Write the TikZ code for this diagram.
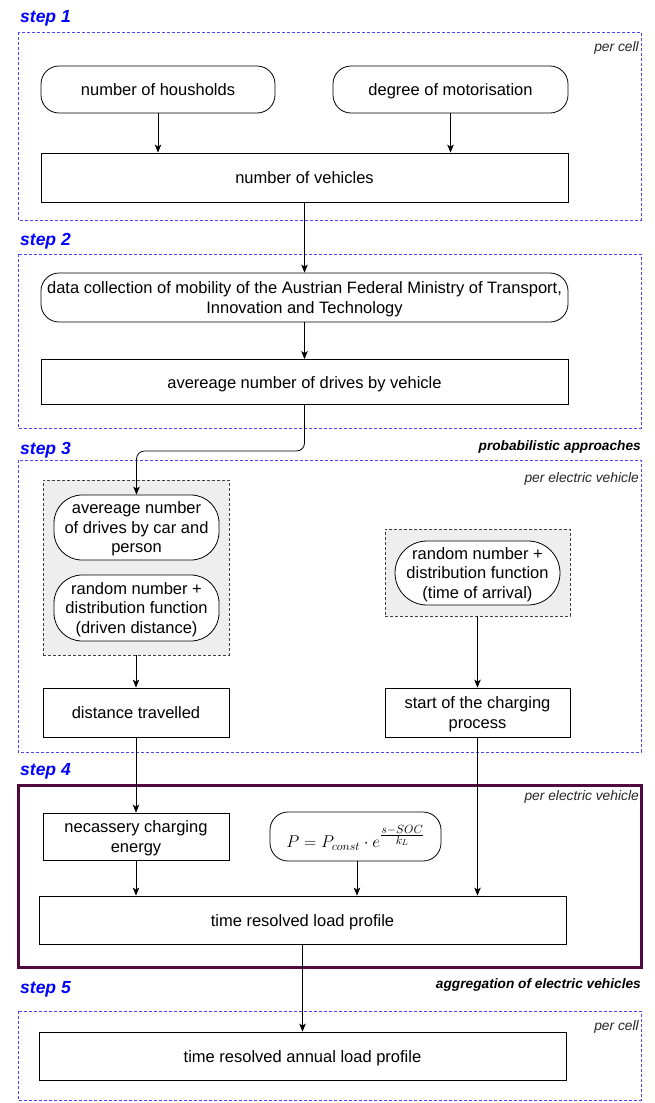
\RequirePackage{fix-cm}
\documentclass[tikz,border=0pt]{standalone}
\usepackage{fontspec}
\setmainfont{Liberation Sans}
\usetikzlibrary{arrows.meta,calc}
\definecolor{stepblue}{RGB}{0,0,255}
\definecolor{dashblue}{RGB}{70,70,245}
\definecolor{framepurple}{RGB}{80,10,64}
\definecolor{grayfill}{RGB}{238,238,238}
\begin{document}
\begin{tikzpicture}[x=1pt,y=-1pt,
  every node/.style={font=\fontsize{16.5}{19.5}\selectfont},
  box/.style={draw=black, line width=0.8pt, fill=white, align=center, inner sep=0pt, text depth=0pt},
  sl/.style={text height=12pt},
  rbox/.style={box, rounded corners=18pt},
  pill/.style={box, rounded corners=28pt},
  stepframe/.style={draw=dashblue, line width=0.8pt, dash pattern=on 3pt off 2pt},
  grp/.style={draw=black!75, fill=grayfill, line width=0.7pt, dash pattern=on 3pt off 2pt, inner sep=0pt},
  arr/.style={draw, line width=0.8pt, -{Stealth[length=8pt,width=6.5pt,inset=2pt]}},
  steplbl/.style={anchor=west, text=stepblue, font=\fontsize{17.5}{20}\selectfont\bfseries\itshape, inner sep=0pt},
  note/.style={anchor=east, font=\fontsize{13.8}{16}\selectfont\itshape, text=black!85, inner sep=0pt},
  bnote/.style={anchor=east, font=\fontsize{13.7}{16}\selectfont\bfseries\itshape, inner sep=0pt},
]
\fill[white] (0,0) rectangle (654,1103);
\useasboundingbox (0,0) rectangle (654,1103);

% step frames
\draw[stepframe] (18,32) rectangle (641,220);
\draw[stepframe] (18,254) rectangle (641,428);
\draw[stepframe] (18,460) rectangle (641,752);
\draw[draw=framepurple, line width=3pt] (18,785) rectangle (641,967);
\draw[stepframe] (18,1011) rectangle (641,1100);

% labels
\node[steplbl] (s1) at (20,18) {step 1};
\node[steplbl] (s2) at (20,241) {step 2};
\node[steplbl] (s3) at (20,450) {step 3};
\node[steplbl] (s4) at (20,771) {step 4};
\node[steplbl] (s5) at (20,989) {step 5};
\node[note] (n1) at (639,48) {per cell};
\node[note] (n3) at (639,479) {per electric vehicle};
\node[note] (n4) at (639,797) {per electric vehicle};
\node[note] (n5) at (639,1027) {per cell};
\node[bnote] (b3) at (641,447) {probabilistic approaches};
\node[bnote] (b5) at (641,985) {aggregation of electric vehicles};

% step 1
\node[rbox, sl, minimum width=234, minimum height=47] (hh) at (158,89.5) {number of housholds};
\node[rbox, sl, minimum width=235, minimum height=47] (mot) at (450.5,89.5) {degree of motorisation};
\node[box, sl, minimum width=527, minimum height=49] (veh) at (304.5,177.5) {number of vehicles};

% step 2
\node[rbox, minimum width=527, minimum height=49] (data) at (304.5,297.5) {data collection of mobility of the Austrian Federal Ministry of Transport,\\Innovation and Technology};
\node[box, sl, minimum width=527, minimum height=45] (drv) at (304.5,382) {avereage number of drives by vehicle};

% step 3
\node[grp, minimum width=186, minimum height=175] (grpA) at (136,567.5) {};
\node[grp, minimum width=185, minimum height=87] (grpB) at (477.5,572.5) {};
\node[pill, minimum width=165, minimum height=65] (carp) at (136.5,527.5) {avereage number\\of drives by car and\\person};
\node[pill, minimum width=165, minimum height=66] (rdist) at (136.5,608) {random number +\\distribution function\\(driven distance)};
\node[box, rounded corners=32pt, minimum width=165, minimum height=64] (rtime) at (477.5,573) {random number +\\distribution function\\(time of arrival)};
\node[box, sl, minimum width=186, minimum height=49] (dist) at (136,712.5) {distance travelled};
\node[box, minimum width=185, minimum height=49] (start) at (477.5,712.5) {start of the charging\\process};

% step 4
\node[box, minimum width=186, minimum height=47] (energy) at (136,836.5) {necassery charging\\energy};
\node[rbox, minimum width=171, minimum height=49, font=\fontsize{17}{20}\selectfont] (formula) at (355.5,836.5) {$P = P_{const}\cdot e^{\frac{\scriptstyle s-SOC}{\scriptstyle k_L}}$};
\node[box, sl, minimum width=527, minimum height=48] (load) at (302.5,920) {time resolved load profile};

% step 5
\node[box, sl, minimum width=527, minimum height=48] (annual) at (302.5,1056) {time resolved annual load profile};

% connectors
\draw[arr] (hh.south) -- (hh.south |- veh.north);
\draw[arr] (mot.south) -- (mot.south |- veh.north);
\draw[arr] (veh.south) -- (veh.south |- data.north);
\draw[arr] (data.south) -- (data.south |- drv.north);
\coordinate (turn) at (220,451);
\draw[arr, rounded corners=8pt] (drv.south) |- (turn) -| (carp.north);
\draw[arr] (grpA.south) -- (dist.north);
\draw[arr] (grpB.south) -- (start.north);
\draw[arr] (dist.south) -- (energy.north);
\draw[arr] (start.south) -- (start.south |- load.north);
\draw[arr] (energy.south) -- (energy.south |- load.north);
\draw[arr] ([xshift=1.5pt]formula.south) -- ([xshift=1.5pt]formula.south |- load.north);
\draw[arr] (load.south) -- (annual.north);
\end{tikzpicture}
\end{document}
